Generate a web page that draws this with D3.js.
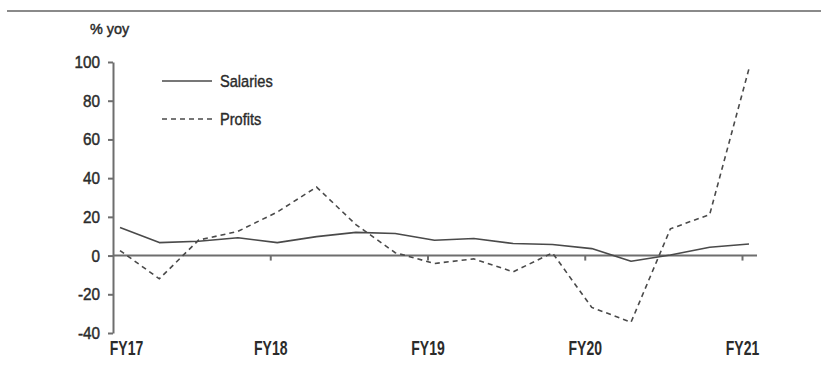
<!DOCTYPE html>
<html>
<head>
<meta charset="utf-8">
<script src="https://cdn.jsdelivr.net/npm/d3@7/dist/d3.min.js"></script>
<style>
  html, body { margin: 0; padding: 0; background: #fff; }
  svg { display: block; }
  text { font-family: "Liberation Sans", Arial, sans-serif; fill: #2b2b2b; }
</style>
</head>
<body>
<svg id="chart" width="821" height="366"></svg>
<script>
// Quarterly year-on-year growth, 1QFY17 to 1QFY21
const quarters = [
  "1QFY17", "2QFY17", "3QFY17", "4QFY17",
  "1QFY18", "2QFY18", "3QFY18", "4QFY18",
  "1QFY19", "2QFY19", "3QFY19", "4QFY19",
  "1QFY20", "2QFY20", "3QFY20", "4QFY20",
  "1QFY21"
];
const salaries = [14.5, 6.7, 7.4, 9.2, 6.7, 9.8, 12, 11.4, 7.9, 8.8, 6.2, 5.7, 3.6, -2.9, 0.3, 4.3, 6];
const profits  = [2.6, -12, 8, 12.5, 22.5, 35.4, 16, 1.5, -4.1, -1.7, -8.4, 1.4, -26.8, -34.4, 13.8, 21.2, 96.6];

const yearTicks = [17, 18, 19, 20, 21];
const yearLabels = ["FY17", "FY18", "FY19", "FY20", "FY21"];
const yTicks = [-40, -20, 0, 20, 40, 60, 80, 100];

const svg = d3.select("#chart");
const axisColor = "#6e6e6e";
const lineColor = "#4a4a4a";
const textColor = "#2b2b2b";

// Condensed lettering: squeeze a text element horizontally about its own x
function condense(sel, s, thicken) {
  sel.each(function () {
    const t = d3.select(this);
    const x = +t.attr("x") || 0;
    t.attr("x", x / s).attr("transform", `scale(${s},1)`);
    if (thicken) t.attr("stroke", textColor).attr("stroke-width", thicken);
  });
}

// Rule across the top of the panel
svg.append("line")
  .attr("x1", 7).attr("x2", 821)
  .attr("y1", 11).attr("y2", 11)
  .attr("stroke", "#8a8a8a").attr("stroke-width", 2);

// Scales
const y = d3.scaleLinear().domain([-40, 100]).range([333, 62]);
const xYear = d3.scaleLinear().domain([17, 21]).range([113, 742]);
const xQ = d3.scalePoint().domain(quarters).range([120, 749]);

// Unit label
svg.append("text")
  .attr("x", 90).attr("y", 34)
  .attr("font-size", 15)
  .text("% yoy")
  .call(condense, 0.96, 0.45);

// Y axis (plain hyphen for negatives)
const yAxis = svg.append("g")
  .attr("transform", "translate(113,0)")
  .call(d3.axisLeft(y).tickValues(yTicks).tickSize(5).tickSizeOuter(0).tickPadding(8)
    .tickFormat(d => String(d)));
yAxis.select(".domain").attr("stroke", axisColor).attr("stroke-width", 2);
yAxis.selectAll(".tick line").attr("stroke", axisColor).attr("stroke-width", 2);
yAxis.selectAll(".tick text")
  .attr("font-size", 17).attr("fill", textColor)
  .style("font-family", "\"Liberation Sans\", Arial, sans-serif")
  .call(condense, 0.9, 0.45);

// Zero line with year ticks hanging below it
svg.append("line")
  .attr("x1", 113).attr("x2", 757)
  .attr("y1", y(0)).attr("y2", y(0))
  .attr("stroke", axisColor).attr("stroke-width", 2);
const xTicks = svg.append("g")
  .attr("transform", `translate(0,${y(0)})`)
  .call(d3.axisBottom(xYear).tickValues(yearTicks.slice(1)).tickSize(5).tickFormat(""));
xTicks.select(".domain").remove();
xTicks.selectAll(".tick line").attr("stroke", axisColor).attr("stroke-width", 2);

// Year labels along the bottom
const xLabels = svg.append("g")
  .attr("transform", "translate(0,333)")
  .call(d3.axisBottom(xYear).tickValues(yearTicks).tickSize(0).tickPadding(8)
    .tickFormat((d, i) => yearLabels[i]));
xLabels.select(".domain").remove();
xLabels.selectAll(".tick text")
  .attr("font-size", 20).attr("font-weight", "bold").attr("fill", textColor)
  .style("font-family", "\"Liberation Sans\", Arial, sans-serif")
  .call(condense, 0.7, 0);
xLabels.selectAll(".tick").filter(d => d === 17).select("text").attr("x", 13 / 0.7);

// Series lines
const line = d3.line()
  .x((d, i) => xQ(quarters[i]))
  .y(d => y(d));

svg.append("path")
  .datum(salaries)
  .attr("d", line)
  .attr("fill", "none")
  .attr("stroke", lineColor)
  .attr("stroke-width", 1.6)
  .attr("stroke-linejoin", "round");

svg.append("path")
  .datum(profits)
  .attr("d", line)
  .attr("fill", "none")
  .attr("stroke", lineColor)
  .attr("stroke-width", 1.6)
  .attr("stroke-dasharray", "5,4");

// Legend
const legend = [
  { name: "Salaries", dash: null, y: 81 },
  { name: "Profits", dash: "5,4", y: 119 }
];
const lg = svg.append("g");
legend.forEach(item => {
  lg.append("line")
    .attr("x1", 162).attr("x2", 212)
    .attr("y1", item.y).attr("y2", item.y)
    .attr("stroke", lineColor).attr("stroke-width", 1.6)
    .attr("stroke-dasharray", item.dash);
  lg.append("text")
    .attr("x", 220).attr("y", item.y)
    .attr("dy", "0.36em")
    .attr("font-size", 17)
    .text(item.name)
    .call(condense, 0.86, 0.4);
});
</script>
</body>
</html>
